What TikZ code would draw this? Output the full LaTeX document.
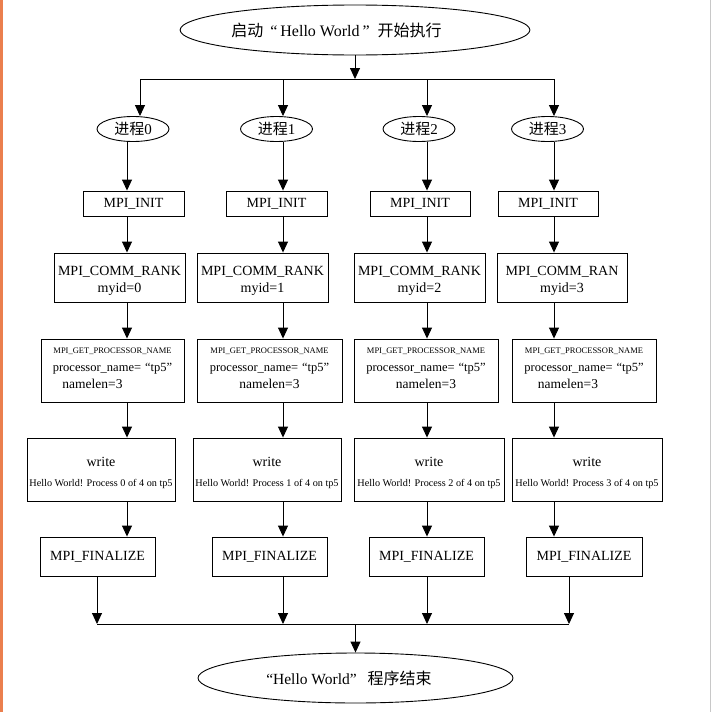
\documentclass[tikz,border=0pt]{standalone}
\usepackage{fontspec}
\setmainfont{Liberation Serif}
\newfontfamily\cjk{Noto Sans CJK SC}
\usetikzlibrary{shapes.geometric,arrows.meta}
\definecolor{edgeorange}{HTML}{EB7F4E}
\definecolor{edgegray}{HTML}{C8C8C8}
\newcommand\fsz[2]{\fontsize{#1}{#2}\selectfont}
\tikzset{
  box/.style={draw, rectangle, inner sep=0pt, align=center, line width=0.9pt},
  ell/.style={draw, ellipse, inner sep=0pt, line width=0.9pt},
  arr/.style={line width=0.9pt, -{Triangle[length=11pt,width=10pt]}},
  ln/.style={line width=0.9pt},
  initbox/.style={box, minimum height=25pt, font=\rmfamily\fsz{14}{17}},
  rankbox/.style={box, minimum height=49pt, font=\rmfamily\fsz{14}{17}},
  procbox/.style={box, minimum height=63pt, font=\rmfamily\fsz{12.5}{17.5}},
  writebox/.style={box, minimum height=63pt, font=\rmfamily\fsz{14}{20}},
  finbox/.style={box, minimum height=39pt, font=\rmfamily\fsz{14}{17}},
  pell/.style={ell, minimum width=72pt, minimum height=25pt, font=\rmfamily\fsz{15}{17}},
}
\newcommand\proctext[1]{{\fsz{8.5}{17.5}MPI\_GET\_PROCESSOR\_NAME}\\{processor\_name=\hspace{4pt}“tp5”}\\{\fsz{13.5}{17.5}#1\rule[-4pt]{0pt}{0pt}}}
\newcommand\writetext[1]{\rule{0pt}{16pt}write\\{\fsz{10.2}{20}Hello World! Process #1 of 4 on tp5}}
\newcommand\ranktext[2]{\rule{0pt}{15.5pt}#1\\myid=#2}
\begin{document}
\begin{tikzpicture}[x=1pt,y=-1pt]
\useasboundingbox (0,0) rectangle (711,712);
\fill[edgeorange] (0,0) rectangle (3,712);
\draw[edgegray, line width=1pt] (710,0) -- (710,712);

% start / end
\node[ell, minimum width=314pt, minimum height=50pt, font=\rmfamily] (start) at (355,30)
  {\fsz{16}{18}{\cjk 启动}\hspace{7pt}“\hspace{3pt}Hello World\hspace{3pt}”\hspace{8pt}{\cjk 开始执行}\rule{37pt}{0pt}};
\node[ell, minimum width=315pt, minimum height=50pt, font=\rmfamily] (end) at (355.5,678)
  {\fsz{15.5}{18}“Hello World”\hspace{11pt}{\fsz{16}{18}\cjk 程序结束}\rule{13pt}{0pt}};

% process ellipses
\node[pell] (p0) at (133,129) {{\cjk 进程}0};
\node[pell] (p1) at (276.5,129) {{\cjk 进程}1};
\node[pell] (p2) at (419,129) {{\cjk 进程}2};
\node[pell] (p3) at (547.5,129) {{\cjk 进程}3};

% MPI_INIT
\node[initbox, minimum width=101pt] (i0) at (133.5,203.5) {MPI\_INIT};
\node[initbox, minimum width=101pt] (i1) at (276.5,203.5) {MPI\_INIT};
\node[initbox, minimum width=100pt] (i2) at (420,203.5) {MPI\_INIT};
\node[initbox, minimum width=100pt] (i3) at (548,203.5) {MPI\_INIT};

% MPI_COMM_RANK
\node[rankbox, minimum width=131pt] (r0) at (119.5,277.5) {\ranktext{MPI\_COMM\_RANK}{0}};
\node[rankbox, minimum width=131pt] (r1) at (262.5,277.5) {\ranktext{MPI\_COMM\_RANK}{1}};
\node[rankbox, minimum width=131pt] (r2) at (419.5,277.5) {\ranktext{MPI\_COMM\_RANK}{2}};
\node[rankbox, minimum width=130pt] (r3) at (562,277.5) {\ranktext{MPI\_COMM\_RAN}{3}};

% MPI_GET_PROCESSOR_NAME
\node[procbox, minimum width=143pt] (g0) at (112.5,370.5) {\proctext{namelen=3\hspace*{40pt}}};
\node[procbox, minimum width=145pt] (g1) at (269.5,370.5) {\proctext{namelen=3}};
\node[procbox, minimum width=144pt] (g2) at (426,370.5) {\proctext{namelen=3}};
\node[procbox, minimum width=144pt] (g3) at (584,370.5) {\proctext{namelen=3\hspace*{32pt}}};

% write
\node[writebox, minimum width=148pt] (w0) at (101,469.5) {\writetext{0}};
\node[writebox, minimum width=148pt] (w1) at (267,469.5) {\writetext{1}};
\node[writebox, minimum width=150pt] (w2) at (429,469.5) {\writetext{2}};
\node[writebox, minimum width=150pt] (w3) at (587,469.5) {\writetext{3}};

% MPI_FINALIZE
\node[finbox, minimum width=115pt] (f0) at (97.5,556.5) {MPI\_FINALIZE};
\node[finbox, minimum width=115pt] (f1) at (269.5,556.5) {MPI\_FINALIZE};
\node[finbox, minimum width=115pt] (f2) at (426.5,556.5) {MPI\_FINALIZE};
\node[finbox, minimum width=116pt] (f3) at (584,556.5) {MPI\_FINALIZE};

% coordinates
\coordinate (tb) at (355,79);
\coordinate (b0) at (140,79);
\coordinate (b1) at (283,79);
\coordinate (b2) at (427,79);
\coordinate (b3) at (554,79);
\coordinate (c0) at (127,0);
\coordinate (c1) at (283,0);
\coordinate (c2) at (427,0);
\coordinate (c3) at (554,0);
\coordinate (m0) at (97,624);
\coordinate (m1) at (283,624);
\coordinate (m2) at (427,624);
\coordinate (m3) at (569,624);
\coordinate (mc) at (355.5,624);

% fan-out
\draw[arr] (start.south) -- (tb);
\draw[ln] (b0) -- (b3);
\foreach \k in {0,1,2,3} {
  \draw[arr] (b\k) -- (b\k |- p\k.north);
  \draw[arr] (p\k.south -| c\k) -- (i\k.north -| c\k);
  \draw[arr] (i\k.south -| c\k) -- (r\k.north -| c\k);
  \draw[arr] (r\k.south -| c\k) -- (g\k.north -| c\k);
  \draw[arr] (g\k.south -| c\k) -- (w\k.north -| c\k);
  \draw[arr] (w\k.south -| c\k) -- (f\k.north -| c\k);
  \draw[arr] (f\k.south -| m\k) -- (m\k);
}
% fan-in
\draw[ln] (m0) -- (m3);
\draw[arr] (mc) -- (mc |- end.north);
\end{tikzpicture}
\end{document}
